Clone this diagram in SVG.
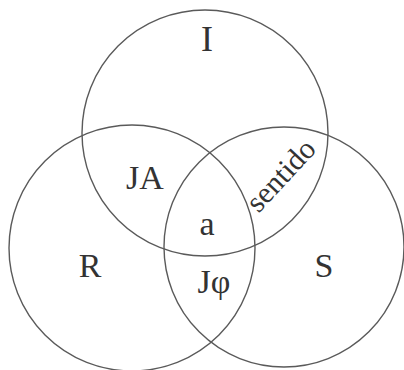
<svg xmlns="http://www.w3.org/2000/svg" width="404" height="370" viewBox="0 0 404 370">
<style>
.c{fill:none;stroke:#5a5a5a;stroke-width:1.4}
.t{font-family:"Liberation Serif","Times New Roman",serif;font-size:34px;fill:#333;text-anchor:middle}
</style>
<rect width="404" height="370" fill="#fff"/>
<g id="circle-I"><circle class="c" cx="205" cy="133" r="123"/></g>
<g id="circle-R"><circle class="c" cx="132" cy="248" r="123"/></g>
<g id="circle-S"><circle class="c" cx="284" cy="247" r="120"/></g>
<g id="labels">
<text class="t" x="207" y="51" style="font-size:36px">I</text>
<text class="t" x="145" y="189">JA</text>
<text class="t" x="207" y="235">a</text>
<text class="t" x="90" y="277">R</text>
<text class="t" x="324" y="277">S</text>
<text class="t" x="214" y="293">Jφ</text>
<text class="t" transform="translate(288 182) rotate(-47)" style="font-size:30px">sentido</text>
</g>
</svg>
